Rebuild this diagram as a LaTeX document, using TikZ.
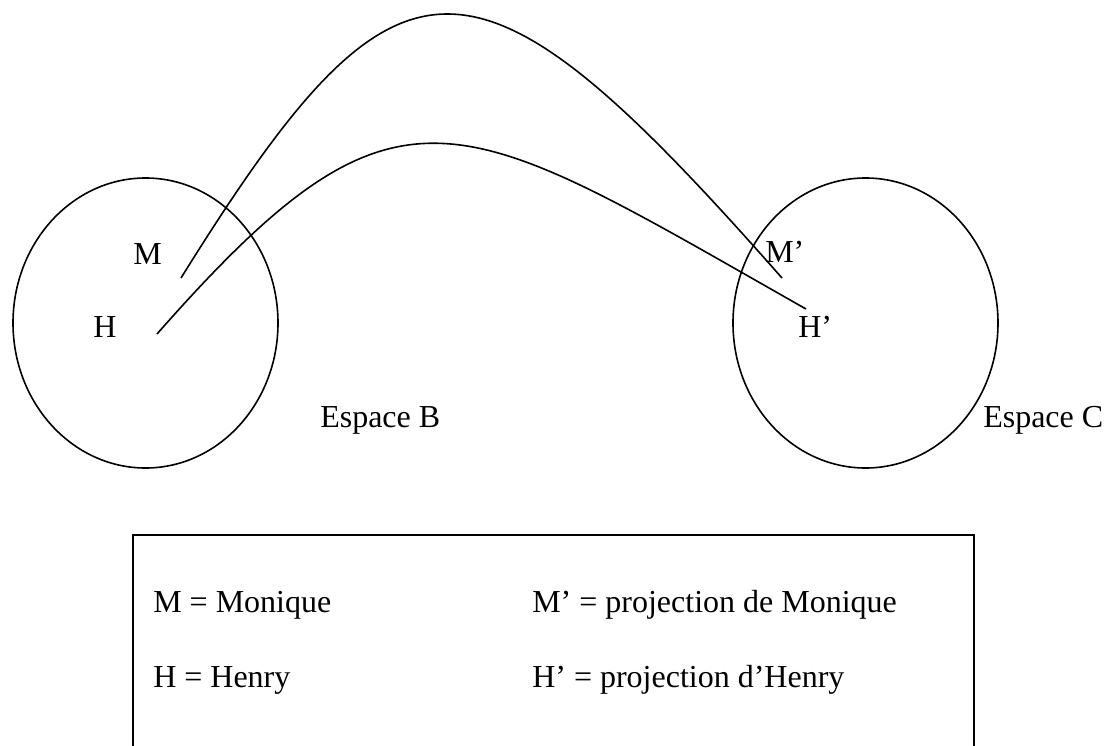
\documentclass[tikz,border=0pt]{standalone}
\usepackage{fontspec}
\setmainfont{Liberation Serif}
\usetikzlibrary{positioning}

\begin{document}
\begin{tikzpicture}[
        x=0.75pt, y=-0.75pt,
        % Style des lettres et des textes
        lbl/.style={anchor=base west, inner sep=0pt, font=\fontsize{24}{28}\selectfont},
        % Style des espaces
        espace/.style={draw, line width=1.2pt},
        % Style des liens
        lien/.style={line width=1.2pt}
    ]
        \useasboundingbox (0,0) rectangle (1104,746);
        \clip (0,0) rectangle (1104,746);

        % --- 1. Les deux espaces ---
        \draw[espace] (145.5,323) ellipse [x radius=132.5, y radius=145];
        \draw[espace] (865.5,323) ellipse [x radius=132.5, y radius=145];

        \node[lbl] (espB) at (320,427) {Espace B};
        \node[lbl] (espC) at (983,427) {Espace C};

        % Lettres dans l'espace B
        \node[lbl] (M) at (133,264) {M};
        \node[lbl] (H) at (93,337) {H};

        % Lettres dans l'espace C
        \node[lbl] (Mp) at (765,262) {M’};
        \node[lbl] (Hp) at (798,337) {H’};

        % --- 2. Les projections ---
        \coordinate (m_from) at (181,278);
        \coordinate (m_to) at (782,278);
        \coordinate (h_from) at (157,334);
        \coordinate (h_to) at (806,309);

        \draw[lien] (m_from) .. controls (400,-74) and (472,-74) .. (m_to);
        \draw[lien] (h_from) .. controls (400,58) and (455,110) .. (h_to);

        % --- 3. La legende ---
        \node[draw, line width=1.6pt, anchor=north west, inner sep=0pt,
              minimum width=630.75pt, minimum height=180pt] (legende) at (132,534) {};

        \node[lbl] (leg_m) at (153,612) {M = Monique};
        \node[lbl] (leg_h) at (153,687) {H = Henry};
        \node[lbl] (leg_mp) at (532,612) {M’ = projection de Monique};
        \node[lbl] (leg_hp) at (532,687) {H’ = projection d’Henry};

    \end{tikzpicture}
\end{document}
